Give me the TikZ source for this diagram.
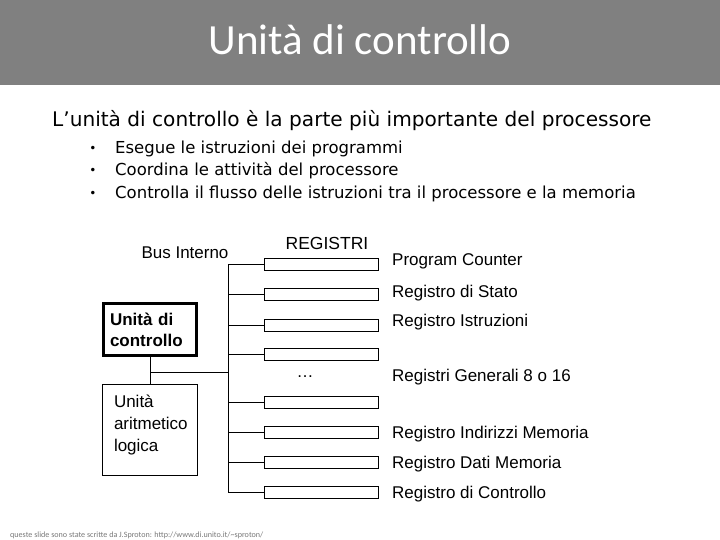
\documentclass[tikz,border=0pt]{standalone}
\usepackage{fontspec}
\setmainfont{Liberation Sans}
\newfontfamily\titlefont{Carlito}
\newfontfamily\slidefont{DejaVu Sans}
\usetikzlibrary{positioning}

\definecolor{titlegray}{RGB}{128,128,128}
\definecolor{footgray}{RGB}{120,120,120}

\tikzset{
  reg/.style={draw, line width=0.9pt, minimum width=114, minimum height=12, inner sep=0},
  lbl/.style={anchor=west, inner sep=0, font=\fontsize{17}{20}\selectfont},
  bullet/.style={anchor=base west, inner sep=0, font=\slidefont\fontsize{16.5}{20}\selectfont},
  wire/.style={line width=0.9pt},
}

\begin{document}
\begin{tikzpicture}[x=1pt, y=-1pt]
        \useasboundingbox (0,0) rectangle (720,540);
        \fill[titlegray] (0,0) rectangle (720,85);
        \node[anchor=base, text=white, font=\titlefont\fontsize{43}{50}\selectfont] (title) at (360,55) {Unità di controllo};

        % testo introduttivo
        \node[anchor=base west, inner sep=0, font=\slidefont\fontsize{20.1}{24}\selectfont] (intro) at (52,127)
          {L’unità di controllo è la parte più importante del processore};
        \foreach \n/\y/\t in {1/153.5/Esegue le istruzioni dei programmi,
                              2/176/Coordina le attività del processore,
                              3/198.5/Controlla il flusso delle istruzioni tra il processore e la memoria}{
          \node[bullet, anchor=base, font=\slidefont\fontsize{12}{14}\selectfont] (dot\n) at (93,\y-1) {\textbullet};
          \node[bullet] (item\n) at (115,\y) {\t};
        }

        % registri sul bus interno
        \foreach \i/\y in {1/264, 2/294, 3/325, 4/354, 5/402, 6/432, 7/462, 8/492}{
          \coordinate (b\i) at (228,\y);
          \node[reg] (r\i) at (321,\y) {};
          \draw[wire] (b\i) -- (r\i);
        }
        \draw[wire] (b1) -- (b8);

        \node[lbl, anchor=center] (bus) at (185,253) {Bus Interno};
        \node[lbl, anchor=center, font=\fontsize{17.5}{20}\selectfont] (regs) at (327,243) {REGISTRI};
        \node[lbl, anchor=center] (dots) at (305,377) {\dots};

        \foreach \n/\y/\t in {1/261/Program Counter, 2/293/Registro di Stato,
                              3/322/Registro Istruzioni, 4/377/Registri Generali 8 o 16,
                              5/434/Registro Indirizzi Memoria, 6/464/Registro Dati Memoria,
                              7/494/Registro di Controllo}{
          \node[lbl] (l\n) at (392,\y) {\t};
        }

        % unita' di controllo e ALU
        \node[draw, line width=3.5pt, minimum width=93, minimum height=52, align=left, text width=80,
              inner sep=0, font=\bfseries\fontsize{17}{21}\selectfont] (cu) at (150,329.5)
          {Unità di\\controllo};
        \node[draw, line width=0.9pt, minimum width=95, minimum height=91, align=left, text width=72,
              inner sep=0, text depth=57pt, font=\fontsize{17}{22}\selectfont] (alu) at (150,429.5)
          {Unità\\aritmetico\\logica};
        \coordinate (j) at (150,372);
        \coordinate (bj) at (228,372);
        \draw[wire] (cu.south) -- (alu.north);
        \draw[wire] (j) -- (bj);

        \node[anchor=base west, inner sep=0, text=footgray, font=\titlefont\fontsize{8.1}{9}\selectfont] (foot) at (10,537)
          {queste slide sono state scritte da J.Sproton: http://www.di.unito.it/\textasciitilde sproton/};
\end{tikzpicture}
\end{document}
